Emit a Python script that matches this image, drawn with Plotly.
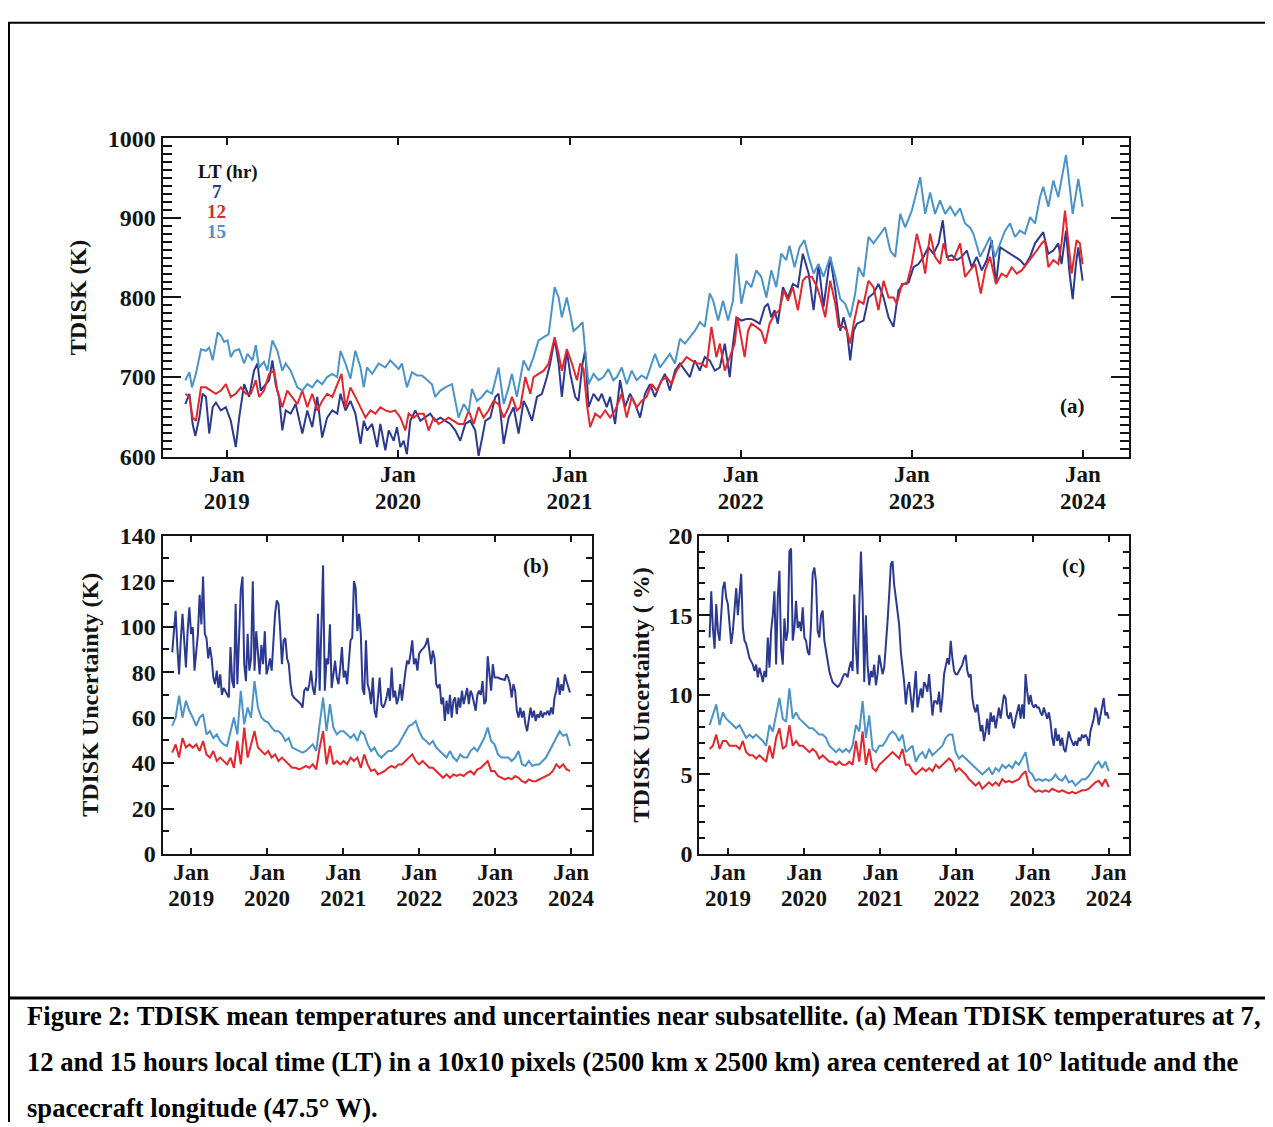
import plotly.graph_objects as go
import pandas as pd
from datetime import datetime

# ---------------- DATA ----------------
# Panel (a): mean TDISK temperature (K); (decimal year, value)
a7 = [(2018.757,666),(2018.781,679),(2018.800,641),(2018.816,626),(2018.839,649),(2018.858,679),(2018.878,675),(2018.897,629),(2018.917,662),(2018.936,668),
(2018.965,658),(2018.994,662),(2019.023,645),(2019.052,612),(2019.072,649),(2019.101,691),(2019.130,675),(2019.159,708),(2019.179,717),(2019.198,683),
(2019.227,691),(2019.247,696),(2019.266,721),(2019.285,691),(2019.305,675),(2019.324,633),(2019.344,658),(2019.373,654),(2019.402,666),(2019.421,649),
(2019.441,629),(2019.470,658),(2019.499,637),(2019.528,675),(2019.557,624),(2019.586,649),(2019.616,658),(2019.645,654),(2019.664,679),(2019.693,658),
(2019.722,670),(2019.751,654),(2019.781,616),(2019.800,645),(2019.819,633),(2019.849,641),(2019.878,612),(2019.897,641),(2019.926,608),(2019.946,633),
(2019.975,620),(2019.994,637),(2020.014,612),(2020.033,620),(2020.052,603),(2020.072,645),(2020.101,658),(2020.130,645),(2020.159,649),(2020.188,654),
(2020.217,645),(2020.247,649),(2020.276,645),(2020.305,641),(2020.334,633),(2020.363,620),(2020.392,641),(2020.421,645),(2020.450,633),(2020.470,601),
(2020.499,633),(2020.509,645),(2020.538,649),(2020.567,675),(2020.586,679),(2020.616,616),(2020.645,649),(2020.674,662),(2020.703,629),(2020.732,670),
(2020.751,662),(2020.781,645),(2020.810,675),(2020.839,679),(2020.868,700),(2020.887,717),(2020.913,748),(2020.936,717),(2020.955,675),(2020.984,733),
(2021.004,704),(2021.033,675),(2021.052,670),(2021.076,717),(2021.091,733),(2021.111,662),(2021.140,679),(2021.169,670),(2021.188,679),(2021.217,662),
(2021.237,675),(2021.266,641),(2021.295,696),(2021.324,662),(2021.353,679),(2021.383,666),(2021.412,649),(2021.441,679),(2021.470,691),(2021.499,675),
(2021.528,691),(2021.557,704),(2021.586,683),(2021.616,708),(2021.645,717),(2021.674,708),(2021.703,700),(2021.732,721),(2021.761,708),(2021.790,725),
(2021.819,721),(2021.849,708),(2021.878,712),(2021.907,742),(2021.936,700),(2021.955,742),(2021.975,775),(2022.004,771),(2022.033,773),(2022.062,773),
(2022.082,771),(2022.111,767),(2022.140,788),(2022.159,792),(2022.179,775),(2022.198,784),(2022.217,767),(2022.247,813),(2022.276,800),(2022.305,817),
(2022.334,813),(2022.363,855),(2022.397,830),(2022.426,784),(2022.455,842),(2022.484,788),(2022.523,851),(2022.553,809),(2022.582,758),(2022.601,775),
(2022.621,758),(2022.640,721),(2022.660,758),(2022.679,767),(2022.718,771),(2022.747,800),(2022.776,805),(2022.805,817),(2022.835,800),(2022.864,775),
(2022.893,763),(2022.922,809),(2022.951,817),(2022.981,819),(2023.010,838),(2023.039,842),(2023.068,851),(2023.097,863),(2023.126,855),(2023.156,868),
(2023.181,897),(2023.204,851),(2023.233,853),(2023.263,847),(2023.292,851),(2023.321,859),(2023.350,838),(2023.379,851),(2023.409,834),(2023.438,847),
(2023.467,872),(2023.492,817),(2023.516,863),(2023.545,859),(2023.574,855),(2023.603,851),(2023.632,847),(2023.661,840),(2023.691,851),(2023.720,868),
(2023.749,876),(2023.768,882),(2023.798,855),(2023.827,859),(2023.856,868),(2023.875,842),(2023.901,884),(2023.920,834),(2023.940,798),(2023.959,842),
(2023.973,863),(2023.998,821)]

a12 = [(2018.757,679),(2018.781,675),(2018.800,649),(2018.819,645),(2018.849,687),(2018.878,687),(2018.907,683),(2018.936,679),(2018.965,683),(2018.994,691),
(2019.023,675),(2019.052,679),(2019.082,687),(2019.111,679),(2019.140,679),(2019.169,696),(2019.188,675),(2019.217,683),(2019.247,704),(2019.276,708),
(2019.295,683),(2019.324,662),(2019.353,683),(2019.383,675),(2019.412,666),(2019.441,683),(2019.470,662),(2019.499,679),(2019.528,658),(2019.557,670),
(2019.586,679),(2019.616,675),(2019.645,691),(2019.670,704),(2019.693,662),(2019.722,687),(2019.751,675),(2019.781,662),(2019.810,649),(2019.839,658),
(2019.868,654),(2019.897,662),(2019.926,658),(2019.955,656),(2019.984,658),(2020.014,649),(2020.043,633),(2020.062,654),(2020.091,649),(2020.120,654),
(2020.150,654),(2020.179,633),(2020.208,649),(2020.237,641),(2020.266,645),(2020.295,649),(2020.324,645),(2020.353,641),(2020.383,641),(2020.412,658),
(2020.441,641),(2020.470,662),(2020.499,649),(2020.528,658),(2020.557,670),(2020.586,666),(2020.616,649),(2020.645,662),(2020.664,675),(2020.693,658),
(2020.713,662),(2020.742,700),(2020.771,679),(2020.790,700),(2020.819,704),(2020.849,708),(2020.878,717),(2020.913,750),(2020.936,729),(2020.955,708),
(2020.984,735),(2021.014,717),(2021.043,696),(2021.062,717),(2021.082,710),(2021.101,666),(2021.120,637),(2021.150,654),(2021.179,649),(2021.208,658),
(2021.237,649),(2021.266,658),(2021.305,679),(2021.334,649),(2021.363,675),(2021.392,662),(2021.421,670),(2021.450,675),(2021.480,691),(2021.509,683),
(2021.538,696),(2021.567,700),(2021.596,691),(2021.625,708),(2021.654,717),(2021.684,725),(2021.713,721),(2021.742,717),(2021.771,717),(2021.800,712),
(2021.829,763),(2021.858,725),(2021.878,742),(2021.907,708),(2021.936,725),(2021.965,742),(2021.981,775),(2022.004,750),(2022.023,725),(2022.043,758),
(2022.062,767),(2022.091,763),(2022.120,758),(2022.144,742),(2022.169,767),(2022.198,779),(2022.227,784),(2022.252,809),(2022.276,796),(2022.305,813),
(2022.334,784),(2022.363,821),(2022.383,826),(2022.416,826),(2022.446,813),(2022.465,800),(2022.494,775),(2022.523,821),(2022.553,792),(2022.572,763),
(2022.601,763),(2022.621,758),(2022.640,742),(2022.660,767),(2022.689,796),(2022.718,792),(2022.747,821),(2022.776,813),(2022.805,784),(2022.835,821),
(2022.864,800),(2022.893,800),(2022.912,792),(2022.942,817),(2022.971,817),(2023.000,842),(2023.029,880),(2023.058,855),(2023.078,830),(2023.107,880),
(2023.136,851),(2023.165,842),(2023.185,868),(2023.214,847),(2023.243,847),(2023.282,868),(2023.311,826),(2023.340,834),(2023.370,842),(2023.403,805),
(2023.428,834),(2023.457,851),(2023.492,817),(2023.525,830),(2023.554,826),(2023.584,838),(2023.613,830),(2023.642,834),(2023.671,842),(2023.700,851),
(2023.730,859),(2023.759,868),(2023.778,872),(2023.798,838),(2023.827,847),(2023.856,842),(2023.875,868),(2023.895,909),(2023.914,872),(2023.934,830),
(2023.963,872),(2023.982,868),(2023.998,842)]

a15 = [(2018.757,696),(2018.781,706),(2018.796,687),(2018.819,704),(2018.849,735),(2018.878,733),(2018.897,737),(2018.917,721),(2018.946,756),(2018.965,752),
(2018.984,744),(2019.004,746),(2019.023,725),(2019.043,733),(2019.072,735),(2019.101,717),(2019.120,729),(2019.150,721),(2019.169,740),(2019.188,712),
(2019.217,719),(2019.237,708),(2019.266,746),(2019.295,733),(2019.324,708),(2019.344,717),(2019.373,708),(2019.412,687),(2019.441,683),(2019.470,691),
(2019.499,687),(2019.528,696),(2019.557,691),(2019.586,700),(2019.616,704),(2019.645,700),(2019.664,733),(2019.693,717),(2019.722,698),(2019.751,733),
(2019.781,712),(2019.800,687),(2019.819,712),(2019.849,704),(2019.887,717),(2019.926,712),(2019.955,721),(2019.975,717),(2020.004,710),(2020.023,717),
(2020.052,687),(2020.082,706),(2020.111,702),(2020.140,702),(2020.169,696),(2020.198,691),(2020.217,675),(2020.247,683),(2020.276,687),(2020.315,691),
(2020.353,649),(2020.383,666),(2020.412,656),(2020.431,685),(2020.460,670),(2020.489,675),(2020.518,683),(2020.548,679),(2020.586,712),(2020.616,666),
(2020.645,687),(2020.664,704),(2020.693,675),(2020.732,721),(2020.761,708),(2020.790,725),(2020.819,746),(2020.849,750),(2020.878,754),(2020.913,813),
(2020.936,800),(2020.955,775),(2020.984,800),(2021.004,779),(2021.023,758),(2021.052,763),(2021.076,769),(2021.091,733),(2021.111,691),(2021.140,704),
(2021.169,696),(2021.198,700),(2021.227,710),(2021.256,696),(2021.276,700),(2021.305,712),(2021.334,691),(2021.363,708),(2021.392,696),(2021.421,702),
(2021.450,698),(2021.480,717),(2021.499,729),(2021.528,712),(2021.557,721),(2021.586,729),(2021.616,717),(2021.645,748),(2021.674,742),(2021.703,750),
(2021.732,758),(2021.761,769),(2021.790,763),(2021.819,805),(2021.839,796),(2021.868,771),(2021.897,796),(2021.926,771),(2021.955,796),(2021.975,855),
(2022.004,792),(2022.033,821),(2022.062,813),(2022.091,834),(2022.120,826),(2022.150,800),(2022.179,834),(2022.208,813),(2022.237,855),(2022.266,847),
(2022.285,865),(2022.315,838),(2022.344,863),(2022.373,872),(2022.397,851),(2022.426,830),(2022.455,842),(2022.484,826),(2022.523,851),(2022.553,826),
(2022.582,798),(2022.611,792),(2022.640,775),(2022.669,805),(2022.689,838),(2022.718,826),(2022.747,876),(2022.776,868),(2022.805,876),(2022.844,888),
(2022.874,859),(2022.903,851),(2022.932,905),(2022.961,888),(2023.000,909),(2023.019,926),(2023.049,951),(2023.078,905),(2023.107,932),(2023.136,905),
(2023.165,922),(2023.195,905),(2023.224,914),(2023.253,903),(2023.282,912),(2023.311,893),(2023.340,888),(2023.360,880),(2023.399,851),(2023.428,863),
(2023.457,876),(2023.486,851),(2023.516,868),(2023.545,884),(2023.574,893),(2023.603,876),(2023.632,884),(2023.661,880),(2023.691,901),(2023.720,893),
(2023.749,926),(2023.768,939),(2023.798,914),(2023.827,947),(2023.856,926),(2023.885,960),(2023.901,979),(2023.914,956),(2023.940,905),(2023.973,949),
(2023.998,914)]

# Panel (b): uncertainty (K), evenly sampled between start and end dates
b_start, b_end = "2018-10-02", "2023-12-27"
b7 = [88.7,99.7,107,90.9,79,94,105.6,94,82,98,108.5,96.8,99.7,80.6,88,96.8,114,101,122,96.8,
95,86,91,86,77.6,74.7,80.6,73,79,70,73,71.8,70,68.8,91,76,73,110,74.7,98,
116,122,83.5,76,96.8,80.6,86,120,80.6,98,86,79,92,83.5,98,79,82,86,80.6,92,
105.6,111.5,110,98,83.5,94,95,86,83.5,74.7,70,68.8,68,67.4,66.5,65.9,64.4,71.8,73,71.8,
74.7,80.6,73,70,77.6,105.6,71.8,98,127,71.8,86,83.5,101,73,79,85,77.6,74.7,82,91,
77.6,80.6,74.7,85,94,95,120,117,98,105.6,96.8,73,70,94,74.7,71.8,65.9,77.6,63,60,
67.4,77.6,65.9,64.4,66,68.8,73,67.4,82,68.8,71.8,65.9,68.8,74.7,67.4,74.7,80,85,83.5,88,
94,83.5,86,80.6,88,89.4,90,91,92.4,95,89.4,83.5,89.4,86,74.7,73,74.7,65.9,68.8,58.5,
67.4,61.5,70,60,67.4,68.8,61.5,68.8,64.4,71.8,65.9,68.8,73,65.9,71.8,70,66,63,70,71.8,
70,76,65.9,67.4,87,79,71.8,83.5,77.6,77.6,77.6,77.2,77,77,76.5,79,77.6,74.7,68.8,74.7,
71.8,63,60,64.4,60,63,57,54,60,64.4,60,63,58.5,61.5,60,63,60,62,61.5,63,
61,64.4,61.5,68.8,71.8,77.6,70,74.7,71.8,79,76,73,71]
b12 = [44.6,48.2,42.4,51,46.8,48.2,46.8,48.2,45.3,49.7,43.8,42.4,45.3,40.9,42.4,40.9,39.4,42.4,37.9,49.7,
39.4,55.6,42.4,48.2,54,46.8,45.3,43.8,45.3,42.4,43.8,40.9,42.4,40.9,39.4,37.9,37.9,37.2,37.9,38.7,
37.9,39.4,37.2,46.8,54,39.4,47.5,39.4,40.9,39.4,40.9,39.4,42.4,40.9,42.4,37.9,43.8,39.4,36.5,37.2,
35,35.7,36.5,37.9,38.7,37.9,39.4,39.4,40.9,42.4,43.8,40.9,39.4,40.9,39.4,37.9,37.9,36.5,35,33.5,
35,33.5,35,34.3,35,34.3,35.7,36.5,35,37.2,37.9,39.4,40.9,36.5,36.5,34.3,33.5,32.8,33.5,32.8,
34.3,33.5,32,31.3,32.8,32,32,32.8,33.5,34.3,35,36.5,39.4,37.9,39.4,37.2,36.5]
b15 = [56.3,60,69.6,60,67.4,63,60,56.3,60,61.5,52.6,54,51,52.6,49.7,48.2,47.5,54,60,52.6,
71.8,57,64.4,60,76,64.4,60,58.5,57.8,55.6,54,54,52.6,49.7,51,46.8,46,45.3,44.6,45.3,
46.8,48.2,45.3,57,68.8,54,65.9,55.6,52.6,54,54,52.6,51,52.6,49.7,54,52.6,48.2,45.3,46.8,
43.8,42.4,43.8,45.3,45.3,46.8,48.2,51,54,56.3,57,58.5,54,51,49.7,48.2,49.7,46.8,45.3,43.8,
42.4,45.3,42.4,40.9,43.8,42.4,42.4,45.3,46.8,45.3,48.2,51,55.6,49.7,48.2,43.8,42.4,42.4,42.4,40.9,
42.4,45.3,39.4,38.7,40.9,38.7,39.4,39.4,40.9,42.4,45.3,48.2,51,54,52,52.6,47.5]

# Panel (c): uncertainty (%), evenly sampled between start and end dates
c_start, c_end = "2018-10-05", "2024-01-01"
c7 = [13.6,16.5,14.2,12.9,15.7,14,13.4,14.8,16.7,17.1,16.1,15.7,14.4,13.2,14,15.7,16.7,15,16.1,17.6,
14.2,13.4,13.2,12.7,12.3,12.1,11.9,11.5,11.9,11.1,11.7,11.3,10.8,11.5,11.1,13.6,11.7,14,15,16.5,
11.9,16.1,17.8,12.9,11.9,14.8,13.4,14,19,19.2,13.4,14.2,15.9,14.2,14.6,14,15.5,13.6,13.4,12.7,
12.5,14.4,17.6,18,17.1,14,13.6,15,15.3,13.4,12.7,12.3,11.5,11.1,10.8,10.7,10.6,10.5,10.6,10.8,
11.1,11.3,11.3,11.1,11.7,12.1,11.5,16.3,12.9,11.3,15.5,19,16.1,10.8,15,11.9,10.6,11.5,11.1,11.9,
10.6,11.3,12.5,11.9,11.3,11.7,12.9,14.6,16.3,18.2,18.4,16.9,16.1,15,14.4,12.7,11.9,10.8,9.4,10.4,
10.8,9.8,8.9,10.2,11.5,9.2,9.8,10.4,9.8,10.8,10.6,10.2,11.3,9.8,8.7,9.6,9.6,9.4,10.2,8.9,
9.8,11.3,11.9,12.3,11.9,13.4,12.3,11.5,11.3,11.3,11.5,11.7,11.9,12.3,12.5,11.5,11.1,11.3,9.8,9.2,
8.9,9.4,8.3,7.7,8.1,7.1,7.7,8.5,7.5,8.9,8.3,8.7,7.9,8.5,9.2,8.5,9.4,10,9.8,8.7,
8.5,8.9,8.3,7.9,8.5,8.9,9.4,8.5,9.4,8.5,11.3,10.2,9.4,10,9.4,9.2,9.4,9.2,9.2,8.9,
8.7,9.2,8.9,8.5,8.9,8.3,7.3,6.8,7.9,7.1,7.5,6.8,7.3,6.6,6.4,7.1,7.7,7.3,7.1,6.8,
7.1,6.8,7.3,7.1,7.5,7.3,7.5,7.3,6.8,7.7,8.1,8.5,9.2,8.9,8.1,8.7,9.4,9.8,8.7,8.9,8.5]
c12 = [6.6,6.8,7.5,6.6,7.1,7.1,6.8,6.8,6.8,6.6,7.1,6.4,6.2,6.2,6,6.2,6,5.8,6.8,6,
7.3,7.9,6.6,6.8,8.1,6.8,7.1,6.8,6.8,6.6,6.4,6.6,6.4,6,6.2,6,5.8,5.8,5.6,5.8,
5.6,5.6,5.8,5.6,7.1,5.8,7.7,5.6,6.6,5.4,5.2,5.6,5.8,6,6.2,6.4,6.2,6,6.6,5.6,
5.6,5.2,5,5.2,5.4,5.2,5.4,5.2,5.6,5.4,5.6,5.8,6,5.8,5.2,5.4,5.2,5,4.7,4.5,
4.3,4.5,4.1,4.3,4.5,4.3,4.5,4.3,4.7,4.5,4.6,4.5,4.6,4.7,5,5.2,4.3,4.1,3.9,4,
3.9,4,3.9,4.1,4,3.9,4,3.9,3.8,3.9,3.8,3.9,4,4,4.1,4.3,4.5,4.6,4.3,4.7,4.2]
c15 = [8.1,8.7,9.4,8.1,8.9,8.5,8.3,8.1,7.9,8.1,7.7,7.3,7.5,7.3,7.5,7.3,7.1,6.8,8.1,7.7,
8.7,9.8,8.5,8.3,10.4,8.5,8.9,8.5,8.3,8.1,7.9,7.9,7.7,7.5,7.5,7.3,6.8,6.6,6.4,6.6,
6.4,6.6,6.4,6.8,8.1,7.7,9.6,7.3,8.7,6.6,6.4,6.8,6.8,7.1,7.5,7.7,7.5,7.1,7.5,6.4,
6.6,6.8,5.8,6.2,6.4,6,6.6,6.2,6.4,6.6,6.8,7.3,7.5,7.5,6.4,6,6.2,6,5.8,5.6,
5.4,5.2,5,5.2,5.4,5,5.4,5.2,5.6,5.4,5.6,5.4,5.8,5.6,6,6.4,5.2,5,4.6,4.7,
4.6,4.7,4.6,4.7,5,4.7,4.6,4.9,4.5,4.6,4.3,4.5,4.7,4.7,4.9,5.2,5.6,5.8,5.4,5.8,5.2]

x_range = ["2018-08-17", "2024-04-09"]
jan_ticks = ["2019-01-01", "2020-01-01", "2021-01-01", "2022-01-01", "2023-01-01", "2024-01-01"]
year_labels = ["2019", "2020", "2021", "2022", "2023", "2024"]
series_names = ["7", "12", "15"]

# ---------------- FIGURE ----------------
W, H = 1273, 1127
OFF = 8            # page body margin
SY, CY = 0.976, 13  # vertical mapping of the page into the final picture
C7, C12, C15 = "#2B3990", "#E5262B", "#4A93CB"
INK = "#141414"
SERIF = "Liberation Serif"


def px(x):  # picture pixel -> paper fraction
    return (x - OFF) / W


def py(y):
    return 1 - ((y - CY) / SY - OFF) / H


def dec_to_dt(y):
    yr = int(y)
    s, e = datetime(yr, 1, 1), datetime(yr + 1, 1, 1)
    return s + (e - s) * (y - yr)


fig = go.Figure()

for data, col, nm in [(a7, C7, "7"), (a12, C12, "12"), (a15, C15, "15")]:
    fig.add_trace(go.Scatter(x=[dec_to_dt(t) for t, v in data], y=[v for t, v in data],
                             mode="lines", line=dict(color=col, width=2), name=nm,
                             xaxis="x", yaxis="y"))

for vals, col, nm in [(b7, C7, "7"), (b12, C12, "12"), (b15, C15, "15")]:
    fig.add_trace(go.Scatter(x=pd.date_range(b_start, b_end, periods=len(vals)), y=vals,
                             mode="lines", line=dict(color=col, width=2), name=nm,
                             xaxis="x2", yaxis="y2"))

for vals, col, nm in [(c7, C7, "7"), (c12, C12, "12"), (c15, C15, "15")]:
    fig.add_trace(go.Scatter(x=pd.date_range(c_start, c_end, periods=len(vals)), y=vals,
                             mode="lines", line=dict(color=col, width=2), name=nm,
                             xaxis="x3", yaxis="y3"))

# empty carriers so the year-label axes get drawn
for xa_name, ya_name in [("x4", "y"), ("x5", "y2"), ("x6", "y3")]:
    fig.add_trace(go.Scatter(x=jan_ticks, y=[None] * len(jan_ticks), mode="lines",
                             xaxis=xa_name, yaxis=ya_name, hoverinfo="skip", showlegend=False))

TF = dict(family=SERIF, size=24, color=INK, weight="bold")
XTF = dict(family=SERIF, size=23, color=INK, weight="bold")
TTF = dict(family=SERIF, size=24, color=INK, weight="bold")

base = dict(showline=True, linewidth=2, linecolor=INK, mirror="ticks", ticks="inside",
            tickwidth=2, tickcolor=INK, showgrid=False, zeroline=False, tickfont=TF)


def xaxis(domain, anchor, tlen):
    return dict(base, domain=domain, anchor=anchor, type="date", range=x_range,
                tickmode="array", tickvals=jan_ticks, ticktext=["Jan"] * 6,
                ticklen=tlen, ticklabelstandoff=-4, tickfont=XTF)


def year_axis(over, anchor):
    return dict(overlaying=over, anchor=anchor, type="date", range=x_range, side="bottom",
                tickmode="array", tickvals=jan_ticks, ticktext=year_labels,
                ticks="", showline=False, showgrid=False, zeroline=False,
                tickfont=XTF, ticklabelstandoff=28)


def yaxis(domain, anchor, rng, dt, mdt, tlen, mlen, title, standoff):
    return dict(base, domain=domain, anchor=anchor, range=rng, tick0=0, dtick=dt,
                ticklen=tlen,
                minor=dict(dtick=mdt, tick0=0, ticklen=mlen, tickwidth=2, tickcolor=INK,
                           ticks="inside", showgrid=False),
                title=dict(text=title, font=TTF, standoff=standoff))


xa = [px(163), px(1132)]
xb = [px(163), px(593)]
xc = [px(701), px(1132)]
ya = [py(456), py(138)]
ybc = [py(853), py(535)]

fig.update_layout(
    width=W, height=H, margin=dict(l=0, r=0, t=0, b=0),
    paper_bgcolor="white", plot_bgcolor="white", showlegend=False,
    xaxis=xaxis(xa, "y", 7),
    xaxis2=xaxis(xb, "y2", 6),
    xaxis3=xaxis(xc, "y3", 6),
    xaxis4=year_axis("x", "y"),
    xaxis5=year_axis("x2", "y2"),
    xaxis6=year_axis("x3", "y3"),
    yaxis=yaxis(ya, "x", [600, 1000], 100, 10, 18, 9, "TDISK (K)", 14),
    yaxis2=yaxis(ybc, "x2", [0, 140], 20, 10, 11, 6, "TDISK Uncertainty (K)", 14),
    yaxis3=yaxis(ybc, "x3", [0, 20], 5, 1, 11, 6, "TDISK Uncertainty ( %)", 12),
)

ann = []
ann.append(dict(text="LT (hr)", x=px(229), y=py(172), font=dict(family=SERIF, size=19, color=INK, weight="bold")))
for nm, col, yy in zip(series_names, [C7, C12, C15], [191, 211, 231]):
    ann.append(dict(text=nm, x=px(217), y=py(yy), font=dict(family=SERIF, size=19, color=col, weight="bold")))
for lab, xx, yy in [("(a)", 1075, 405), ("(b)", 537, 565), ("(c)", 1076, 565)]:
    ann.append(dict(text=lab, x=px(xx), y=py(yy), font=dict(family=SERIF, size=21, color=INK, weight="bold")))
caption = [
    "Figure 2: TDISK mean temperatures and uncertainties near subsatellite. (a) Mean TDISK temperatures at 7,",
    "12 and 15 hours local time (LT) in a 10x10 pixels (2500 km x 2500 km) area centered at 10° latitude and the",
    "spacecraft longitude (47.5° W).",
]
for line, yy in zip(caption, [1015, 1061, 1107]):
    ann.append(dict(text=line, x=px(25), y=py(yy), xanchor="left",
                    font=dict(family=SERIF, size=26.6, color="black", weight="bold")))
for a in ann:
    a.setdefault("xanchor", "center")
    a.update(xref="paper", yref="paper", yanchor="middle", showarrow=False)
fig.update_layout(annotations=ann)

fig.update_layout(shapes=[
    dict(type="line", xref="paper", yref="paper", x0=px(8), x1=1, y0=py(22.5), y1=py(22.5),
         line=dict(color="black", width=2)),
    dict(type="line", xref="paper", yref="paper", x0=px(9), x1=px(9), y0=py(22), y1=0,
         line=dict(color="black", width=2)),
    dict(type="line", xref="paper", yref="paper", x0=px(8), x1=1, y0=py(997), y1=py(997),
         line=dict(color="black", width=3)),
])

fig.write_html("out.html")
